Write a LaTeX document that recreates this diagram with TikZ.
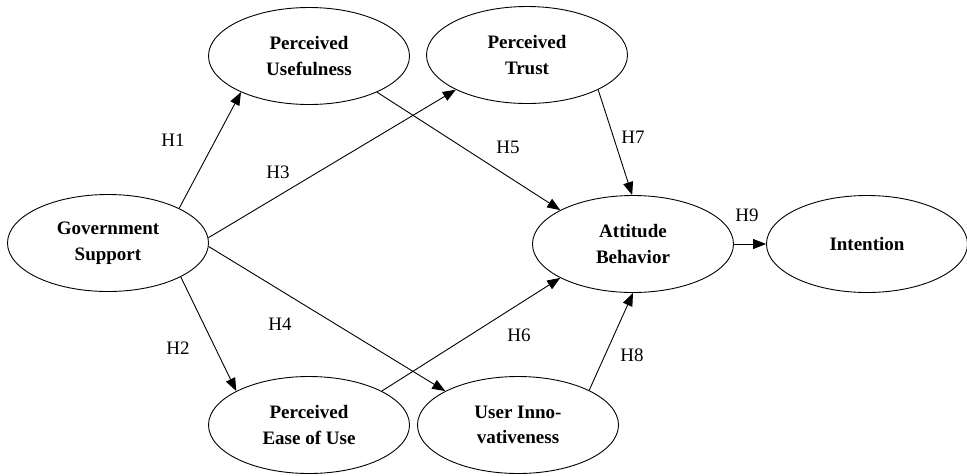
\documentclass[tikz,border=0pt]{standalone}
\usepackage{fontspec}
\setmainfont{Liberation Serif}
\usetikzlibrary{shapes.geometric,arrows.meta}
\tikzset{
  construct/.style={ellipse, draw, line width=0.9pt, minimum width=201pt, minimum height=97pt, inner sep=0pt, align=center, font=\fontsize{19}{25.7}\selectfont\bfseries},
  hyp/.style={line width=0.9pt, -{Triangle[length=13pt,width=10pt]}},
  hlabel/.style={inner sep=0pt, font=\fontsize{19}{22}\selectfont}
}
\begin{document}
\begin{tikzpicture}[x=1pt,y=-1pt]
\useasboundingbox (0,0) rectangle (967,475);
\node[construct] (gs) at (108,243) {Government\\Support};
\node[construct] (pu) at (309,56) {Perceived\\Usefulness};
\node[construct] (pt) at (527,55) {Perceived\\Trust};
\node[construct] (ab) at (633,244) {Attitude\\Behavior};
\node[construct] (in) at (867,244) {Intention};
\node[construct] (peu) at (309,425) {Perceived\\Ease of Use};
\node[construct] (ui) at (518,425) {User Inno-\\vativeness};

\draw[hyp] (gs.26) -- (pu.208);
\draw[hyp] (gs.3) -- (pt.206);
\draw[hyp] (pu.332) -- (ab.155);
\draw[hyp] (pt.334) -- (ab.91);
\draw[hyp] (ab.0) -- (in.180);
\draw[hyp] (gs.335) -- (peu.155);
\draw[hyp] (gs.-2) -- (ui.155);
\draw[hyp] (peu.25) -- (ab.205);
\draw[hyp] (ui.26) -- (ab.270);

\node[hlabel] (h1) at (173,140) {H1};
\node[hlabel] (h3) at (278,172) {H3};
\node[hlabel] (h5) at (508,147) {H5};
\node[hlabel] (h7) at (633,137) {H7};
\node[hlabel] (h9) at (747,215) {H9};
\node[hlabel] (h2) at (178,348) {H2};
\node[hlabel] (h4) at (280,324) {H4};
\node[hlabel] (h6) at (519,335) {H6};
\node[hlabel] (h8) at (632,355) {H8};
\end{tikzpicture}
\end{document}
